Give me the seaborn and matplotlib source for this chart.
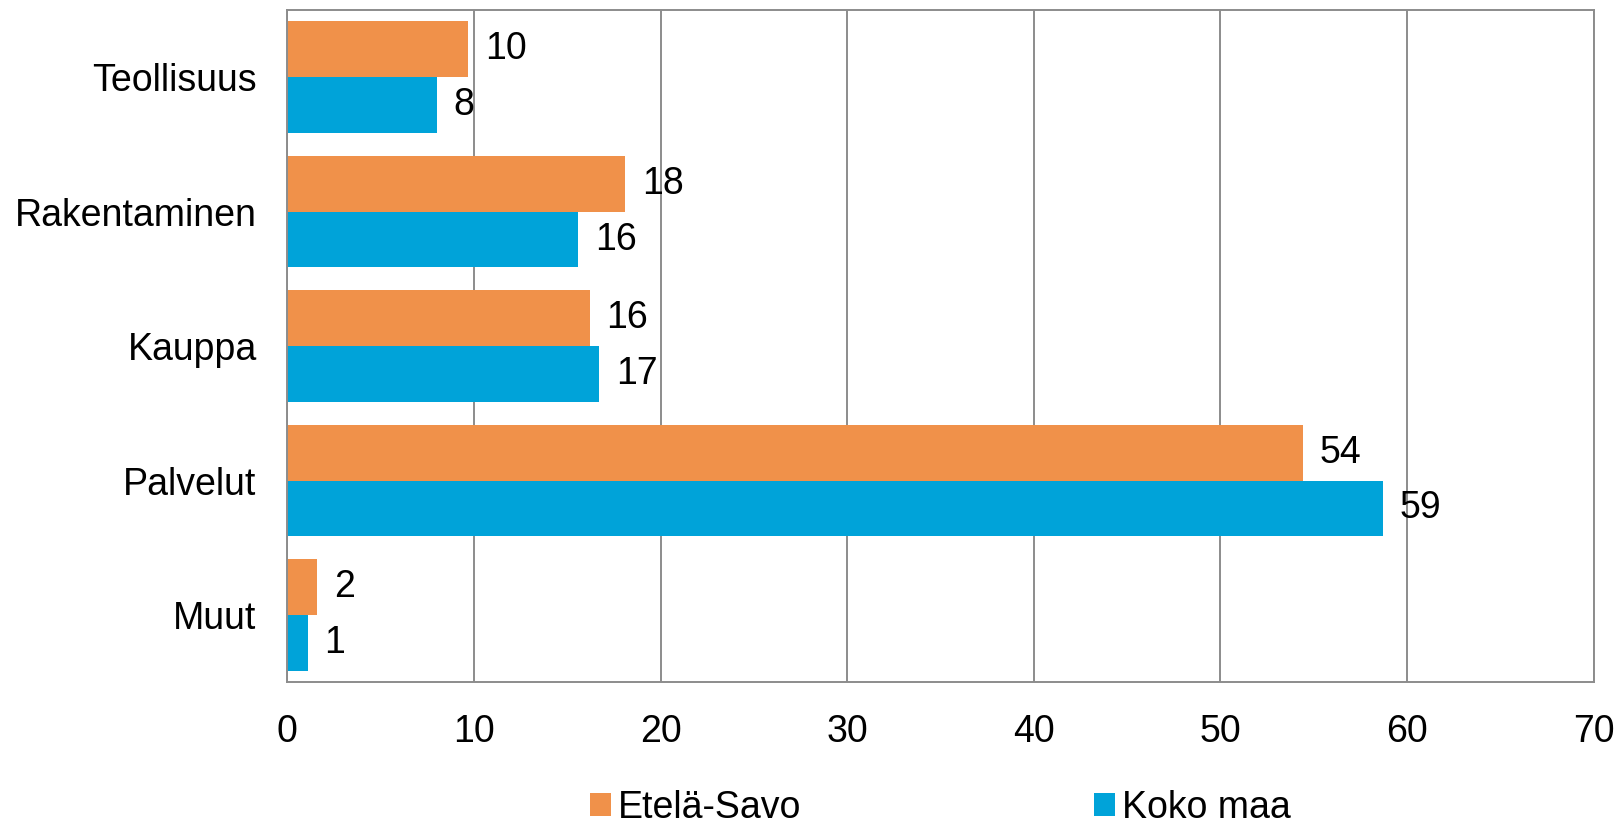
import matplotlib
matplotlib.use("Agg")
import matplotlib.pyplot as plt
import seaborn as sns
import pandas as pd

categories = ["Teollisuus", "Rakentaminen", "Kauppa", "Palvelut", "Muut"]
series_names = ["Etelä-Savo", "Koko maa"]
etela_savo = [9.7, 18.1, 16.2, 54.4, 1.6]
koko_maa = [8.0, 15.6, 16.7, 58.7, 1.1]
x_ticks = [0, 10, 20, 30, 40, 50, 60, 70]

colors = ["#F0914A", "#00A3D9"]

df = pd.DataFrame({
    "category": categories * 2,
    "series": [series_names[0]] * len(categories) + [series_names[1]] * len(categories),
    "value": etela_savo + koko_maa,
})

sns.set_theme(style="white")
plt.rcParams["font.family"] = ["Liberation Sans", "DejaVu Sans"]
plt.rcParams["font.size"] = 27
plt.rcParams["text.color"] = "black"
plt.rcParams["xtick.color"] = "black"
plt.rcParams["ytick.color"] = "black"

FS = 27

fig = plt.figure(figsize=(16.23, 8.25), dpi=100)
ax = fig.add_axes([0.177, 0.173, 0.805, 0.815])

sns.barplot(data=df, y="category", x="value", hue="series", orient="h",
            palette=colors, width=0.83, saturation=1, ax=ax, legend=True,
            errorbar=None, order=categories, hue_order=series_names,
            linewidth=0, edgecolor="none")

for cont in ax.containers:
    ax.bar_label(cont, labels=[f"{v:.0f}" for v in cont.datavalues],
                 padding=12, fontsize=FS, color="black")

ax.set_xlim(0, 70)
ax.set_ylim(4.5, -0.5)
ax.set_xticks(x_ticks)
ax.set_xticklabels([str(t) for t in x_ticks], fontsize=FS)
ax.tick_params(axis="x", length=0, pad=23, labelcolor="black")
ax.tick_params(axis="y", length=0, pad=22, labelsize=FS, labelcolor="black")
ax.set_xlabel("")
ax.set_ylabel("")
ax.xaxis.grid(True, color="#8C8C8C", linewidth=1.4)
ax.set_axisbelow(True)
for s in ax.spines.values():
    s.set_visible(True)
    s.set_color("#8C8C8C")
    s.set_linewidth(1.4)

handles, labels = ax.get_legend_handles_labels()
ax.legend_.remove()
ax.legend(handles, labels, loc="center", bbox_to_anchor=(0.5, -0.187),
          ncol=2, frameon=False, fontsize=FS, handlelength=0.55,
          handleheight=0.55, handletextpad=0.2, columnspacing=7.8,
          borderpad=0.2)

fig.savefig("out.png", dpi=100)
